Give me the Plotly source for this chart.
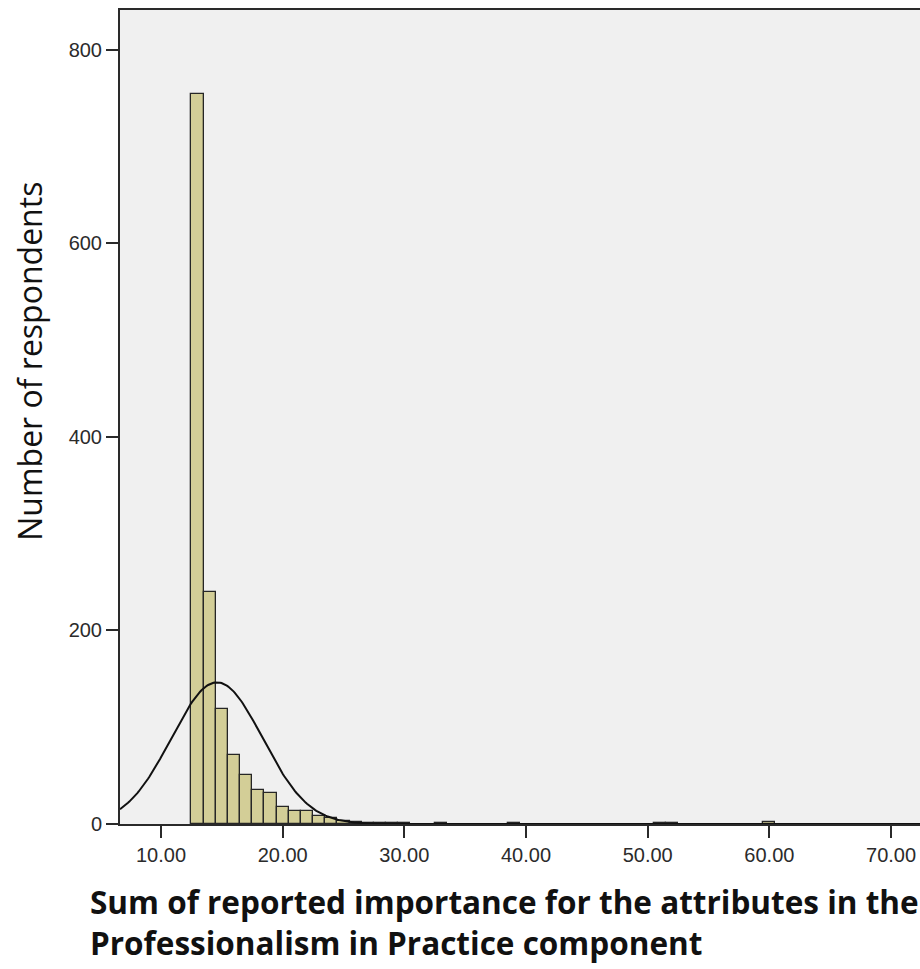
import numpy as np
import plotly.graph_objects as go

# Histogram: bin centres (width 1) and number of respondents per bin
bin_centers = [13, 14, 15, 16, 17, 18, 19, 20, 21, 22, 23, 24,
               25, 26, 27, 28, 29, 30, 33, 39, 51, 52, 60]
counts = [755, 240, 119, 71, 51, 35, 32, 18, 13, 13, 8, 6,
          3, 2, 1, 1, 1, 1, 1, 1, 1, 1, 2]
bin_width = 1.0

# Fitted normal curve parameters
curve_mean = 14.6
curve_sd = 3.75

x_ticks = [10, 20, 30, 40, 50, 60, 70]
y_ticks = [0, 200, 400, 600, 800]

x_range = [6.63, 72.38]
y_range = [0, 841.3]

y_title = "Number of respondents"
x_title_lines = ["Sum of reported importance for the attributes in the",
                 "Professionalism in Practice component"]

n_total = sum(counts)
xs = np.linspace(x_range[0], x_range[1], 600)
ys = n_total * bin_width / (curve_sd * np.sqrt(2 * np.pi)) * np.exp(-0.5 * ((xs - curve_mean) / curve_sd) ** 2)

fig = go.Figure()
fig.add_trace(go.Bar(
    x=bin_centers, y=counts, width=bin_width,
    marker=dict(color="#D3CE97", line=dict(color="#262626", width=1.3)),
    hoverinfo="x+y",
))
fig.add_trace(go.Scatter(
    x=xs, y=ys, mode="lines",
    line=dict(color="#111111", width=2),
    hoverinfo="skip",
))

W, H = 920, 969
ml, mt, mr = 120, 10, 0
mb = H - 824.5
plot_w = W - ml - mr
plot_h = H - mt - mb

def px_x(px):
    return (px - ml) / plot_w

def px_y(py):
    return (H - mb - py) / plot_h

tick_font = dict(family="Liberation Sans, Arial, sans-serif", size=20, color="#2b2b2b")
title_font = "Open Sans, sans-serif"

annotations = [
    dict(
        text=y_title, textangle=-90,
        xref="paper", yref="paper", x=px_x(30), y=px_y(362),
        xanchor="center", yanchor="middle", showarrow=False,
        font=dict(family=title_font, size=32, color="#111111"),
    ),
]
# two lines of the x-axis title, each placed by its top row
for line, top_px in zip(x_title_lines, [879, 920]):
    annotations.append(dict(
        text="<b>" + line + "</b>",
        xref="paper", yref="paper", x=px_x(88), y=px_y(top_px),
        xanchor="left", yanchor="top", align="left", showarrow=False,
        font=dict(family=title_font, size=31.5, color="#111111"),
    ))

fig.update_layout(
    width=W, height=H,
    margin=dict(l=ml, r=mr, t=mt, b=mb, pad=0),
    paper_bgcolor="white",
    plot_bgcolor="#F0F0F0",
    showlegend=False,
    bargap=0,
    xaxis=dict(
        range=x_range, tickvals=x_ticks, tickformat=".2f",
        ticks="outside", ticklen=12, tickwidth=2, tickcolor="#2a2a2a",
        showline=True, linecolor="#2a2a2a", linewidth=2, mirror=True,
        showgrid=False, zeroline=False, tickfont=tick_font,
    ),
    yaxis=dict(
        range=y_range, tickvals=y_ticks,
        ticks="outside", ticklen=12, tickwidth=2, tickcolor="#2a2a2a",
        showline=True, linecolor="#2a2a2a", linewidth=2,
        showgrid=False, zeroline=False, tickfont=tick_font,
    ),
    annotations=annotations,
)

fig.write_html("out.html")
